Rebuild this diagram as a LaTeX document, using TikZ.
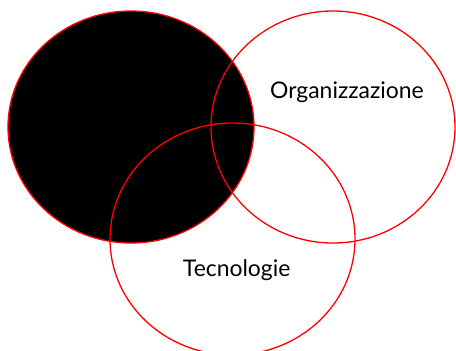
\documentclass[tikz,border=0pt]{standalone}
\usepackage{fontspec}
\setmainfont{Lato}
\begin{document}
\begin{tikzpicture}[x=1bp,y=-1bp,
  ring/.style={draw=red, line width=1.3bp},
  label/.style={font=\fontsize{23}{27}\selectfont, anchor=base, inner sep=0pt}]
\useasboundingbox (0,0) rectangle (456,350);
\fill[white] (0,0) rectangle (456,350);
\begin{scope}
  \clip (0,0) rectangle (456,350);
  % filled circle on the left
  \path[ring, fill=black] (131,127) ellipse [x radius=123, y radius=116];
  % right and bottom rings
  \path[ring] (333,127) ellipse [x radius=122, y radius=116];
  \path[ring] (232.5,239) ellipse [x radius=122.5, y radius=116];
\end{scope}
\node[label] (org) at (347,98) {Organizzazione};
\node[label] (tec) at (236.7,276.7) {Tecnologie};
\end{tikzpicture}
\end{document}
